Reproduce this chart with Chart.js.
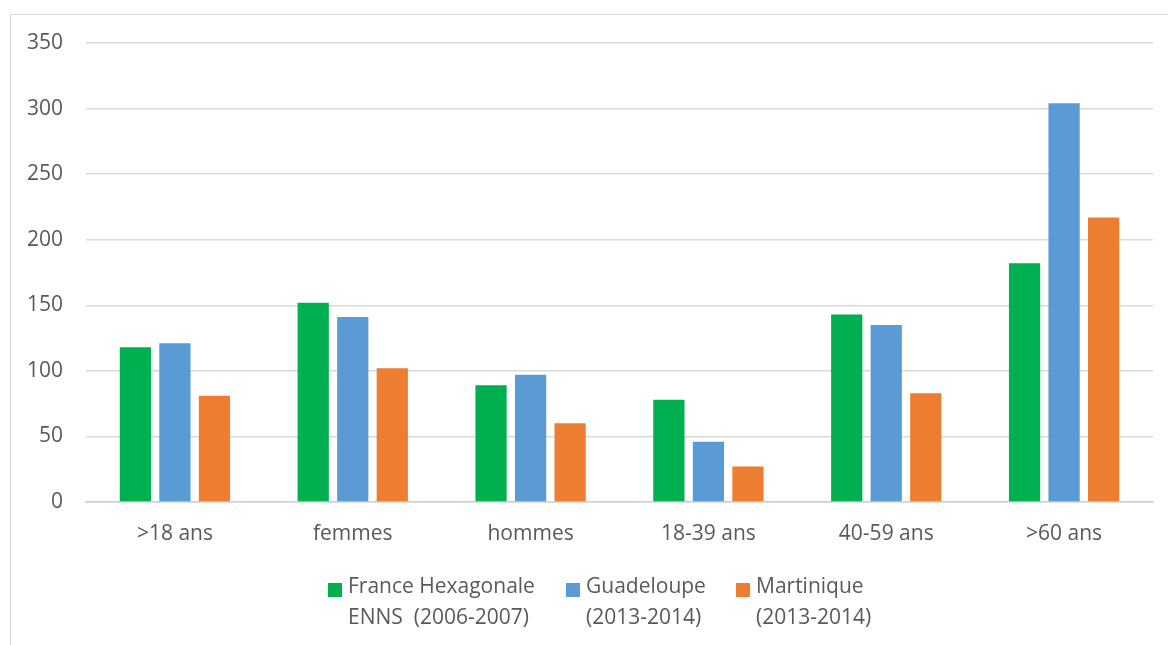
<!DOCTYPE html>
<html>
<head>
<meta charset="utf-8">
<script src="https://cdn.jsdelivr.net/npm/chart.js@4"></script>
<style>
  html, body { margin: 0; padding: 0; background: #fff; overflow: hidden; }
  #frame { position: absolute; left: 10px; top: 14px; width: 1200px; height: 700px; border: 1px solid #d9d9d9; }
  #wrap { position: absolute; left: 0; top: 0; width: 1168px; height: 645px; }
</style>
</head>
<body>
<div id="frame"></div>
<div id="wrap"><canvas id="chart" width="1168" height="645"></canvas></div>
<script>
// Catégories et séries
const categories = ['>18 ans', 'femmes', 'hommes', '18-39 ans', '40-59 ans', '>60 ans'];
const franceValues = [118, 152, 89, 78, 143, 182];
const guadeloupeValues = [121, 141, 97, 46, 135, 304];
const martiniqueValues = [81, 102, 60, 27, 83, 217];
const seriesLabels = [
  ['France Hexagonale', 'ENNS  (2006-2007)'],
  ['Guadeloupe', '(2013-2014)'],
  ['Martinique', '(2013-2014)'],
];
const yTicks = [0, 50, 100, 150, 200, 250, 300, 350];

const TXT = '#595959';
const FONT = '"Open Sans", "DejaVu Sans", sans-serif';

// Légende sur deux lignes, dessinée sous le graphe
const legendPlugin = {
  id: 'twoLineLegend',
  afterDraw(chart) {
    const ctx = chart.ctx;
    const xs = [328, 566, 736];
    ctx.save();
    ctx.font = '21px ' + FONT;
    ctx.textBaseline = 'middle';
    chart.data.datasets.forEach((ds, i) => {
      ctx.fillStyle = ds.backgroundColor;
      ctx.fillRect(xs[i], 583, 14, 14);
      ctx.fillStyle = TXT;
      ds.label.forEach((line, j) => ctx.fillText(line, xs[i] + 20, 587 + j * 31));
    });
    ctx.restore();
  }
};

new Chart(document.getElementById('chart'), {
  type: 'bar',
  data: {
    labels: categories,
    datasets: [
      { label: seriesLabels[0], data: franceValues, backgroundColor: '#00B050' },
      { label: seriesLabels[1], data: guadeloupeValues, backgroundColor: '#5B9BD5' },
      { label: seriesLabels[2], data: martiniqueValues, backgroundColor: '#ED7D31' },
    ],
  },
  options: {
    responsive: false,
    animation: false,
    devicePixelRatio: 1,
    categoryPercentage: 0.667,
    barPercentage: 0.79,
    layout: { padding: { top: 43, right: 15, left: 0, bottom: 0 } },
    plugins: { legend: { display: false }, tooltip: { enabled: false } },
    scales: {
      x: {
        grid: { display: false, drawTicks: false },
        border: { display: true, color: '#d0d0d0', width: 1.5 },
        ticks: { color: TXT, font: { family: FONT, size: 21 }, padding: 19, maxRotation: 0 },
        afterFit(s) { s.height = 143; },
      },
      y: {
        min: 0, max: 350,
        afterBuildTicks(s) { s.ticks = yTicks.map(v => ({ value: v })); },
        grid: { color: '#d9d9d9', lineWidth: 1.5, drawTicks: false },
        border: { display: false },
        ticks: { color: TXT, font: { family: FONT, size: 21 }, padding: 23 },
        afterFit(s) { s.width = 86; },
      },
    },
  },
  plugins: [legendPlugin],
});
</script>
</body>
</html>
